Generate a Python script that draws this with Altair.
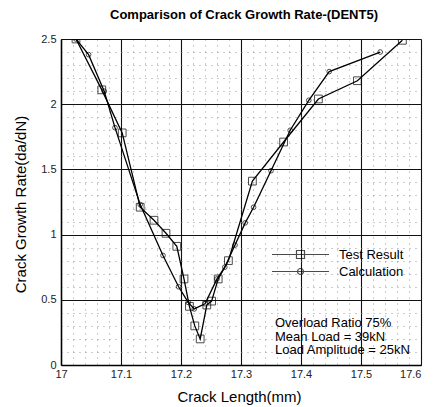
import altair as alt
import pandas as pd

series_names = ["Test Result", "Calculation"]

test_x = [17.025, 17.068, 17.102, 17.132, 17.155, 17.175, 17.193, 17.205, 17.214, 17.223,
          17.232, 17.243, 17.251, 17.262, 17.279, 17.319, 17.371, 17.429, 17.494, 17.569]
test_y = [2.50, 2.11, 1.78, 1.21, 1.11, 1.01, 0.91, 0.66, 0.45, 0.30,
          0.20, 0.46, 0.49, 0.66, 0.80, 1.41, 1.71, 2.04, 2.18, 2.49]

calc_x = [17.025, 17.046, 17.072, 17.090, 17.132, 17.170, 17.196, 17.212, 17.222, 17.240,
          17.260, 17.273, 17.290, 17.307, 17.321, 17.350, 17.382, 17.413, 17.447, 17.532]
calc_y = [2.50, 2.38, 2.10, 1.82, 1.23, 0.84, 0.60, 0.48, 0.43, 0.47,
          0.66, 0.75, 0.92, 1.09, 1.21, 1.49, 1.80, 2.03, 2.25, 2.40]

x_major = [17.0, 17.1, 17.2, 17.3, 17.4, 17.5, 17.6]
y_major = [0.0, 0.5, 1.0, 1.5, 2.0, 2.5]
x_minor = [round(17.0 + 0.02 * k, 2) for k in range(31)]
y_minor = [round(0.1 * k, 1) for k in range(26)]

title_text = "Comparison of Crack Growth Rate-(DENT5)"
x_title = "Crack Length(mm)"
y_title = "Crack Growth Rate(da/dN)"
annotation_lines = ["Overload Ratio 75%", "Mean Load = 39kN", "Load Amplitude = 25kN"]

rows = []
for i, (a, b) in enumerate(zip(test_x, test_y)):
    rows.append({"series": series_names[0], "x": a, "y": b, "i": i})
for i, (a, b) in enumerate(zip(calc_x, calc_y)):
    rows.append({"series": series_names[1], "x": a, "y": b, "i": i})
df = pd.DataFrame(rows)

FONT = "Liberation Sans"
x_major_test = "abs(datum.value*10 - round(datum.value*10)) < 0.001"
y_major_test = "abs(datum.value*2 - round(datum.value*2)) < 0.001"

x_axis = alt.Axis(
    values=x_minor, tickCount=100,
    labelExpr=f"{x_major_test} ? format(datum.value, '~g') : ''",
    labelFlush=False, labelOverlap=False,
    labelAlign={"condition": {"test": f"datum.value > {x_major[-1] - 0.01}", "value": "right"},
                "value": "center"},
    labelFont=FONT, labelFontSize=11, labelColor="#222", labelPadding=3,
    ticks=False, domainColor="black", domainWidth=1.5,
    grid=True,
    gridColor={"condition": {"test": x_major_test, "value": "#111"}, "value": "#999999"},
    gridDash={"condition": {"test": x_major_test, "value": []}, "value": [1, 5]},
    gridWidth={"condition": {"test": x_major_test, "value": 1.1}, "value": 1},
    title=x_title, titleFont=FONT, titleFontSize=15, titleFontWeight="normal",
    titleColor="black", titleX=178, titleY=31, titleBaseline="middle",
)
y_axis = alt.Axis(
    values=y_minor, tickCount=100,
    labelExpr=f"{y_major_test} ? format(datum.value, '~g') : ''",
    labelFlush=False, labelOverlap=False,
    labelFont=FONT, labelFontSize=11, labelColor="#222", labelPadding=5,
    ticks=False, domainColor="black", domainWidth=1.5,
    grid=True,
    gridColor={"condition": {"test": y_major_test, "value": "#111"}, "value": "#999999"},
    gridDash={"condition": {"test": y_major_test, "value": []}, "value": [1, 5]},
    gridWidth={"condition": {"test": y_major_test, "value": 1.1}, "value": 1},
    title=y_title, titleFont=FONT, titleFontSize=15, titleFontWeight="normal",
    titleColor="black", titleX=-41, titleY=165, titleAlign="center", titleBaseline="middle",
)

xs = alt.Scale(domain=[17.0, 17.6], nice=False, zero=False)
ys = alt.Scale(domain=[0, 2.5], nice=False, zero=False)

base = alt.Chart(df)

lines = base.mark_line(color="black", strokeWidth=1.3, clip=True).encode(
    x=alt.X("x:Q", scale=xs, axis=x_axis),
    y=alt.Y("y:Q", scale=ys, axis=y_axis),
    detail="series:N",
    order="i:Q",
)

pts_test = base.transform_filter(alt.datum.series == series_names[0]).mark_point(
    shape="square", filled=False, color="black", strokeWidth=1, size=60, clip=True
).encode(x="x:Q", y="y:Q")

pts_calc = base.transform_filter(alt.datum.series == series_names[1]).mark_point(
    shape="circle", filled=False, color="black", strokeWidth=1, size=22, clip=True
).encode(x="x:Q", y="y:Q")

test_path = "M-5.7,0H5.7M-0.8,-0.8H0.8V0.8H-0.8Z"
calc_path = "M-5.7,0H5.7M0.6,0A0.6,0.6,0,1,1,-0.6,0A0.6,0.6,0,1,1,0.6,0"

legend_layer = base.transform_filter("false").mark_point(
    filled=False, color="black", strokeWidth=1.2, size=100
).encode(
    x="x:Q", y="y:Q",
    shape=alt.Shape(
        "series:N",
        scale=alt.Scale(domain=series_names, range=[test_path, calc_path]),
        legend=alt.Legend(
            title=None, orient="none", legendX=233, legendY=209,
            labelFont=FONT, labelFontSize=13, labelColor="black", labelOffset=32,
            rowPadding=3, symbolStrokeColor="black", symbolFillColor="transparent",
            symbolStrokeWidth=1.2, padding=0,
        ),
    ),
)

note = alt.Chart(pd.DataFrame({"t": ["\n".join(annotation_lines)]})).mark_text(
    align="left", baseline="alphabetic", font=FONT, fontSize=13, lineHeight=13.5,
    lineBreak="\n", color="black"
).encode(x=alt.value(214), y=alt.value(288), text="t:N")

chart = alt.layer(lines, pts_test, pts_calc, legend_layer, note).properties(
    width=360, height=326,
    autosize=alt.AutoSizeParams(type="none"),
    padding={"left": 53, "top": 31, "right": 5, "bottom": 40},
    title=alt.TitleParams(text=title_text, font=FONT, fontSize=13, fontWeight="bold",
                          color="black", anchor="middle", offset=11, dx=3),
).configure_view(stroke="black", strokeWidth=1.5).configure(background="white")

chart.save("out.html", embed_options={"renderer": "svg", "actions": False})
